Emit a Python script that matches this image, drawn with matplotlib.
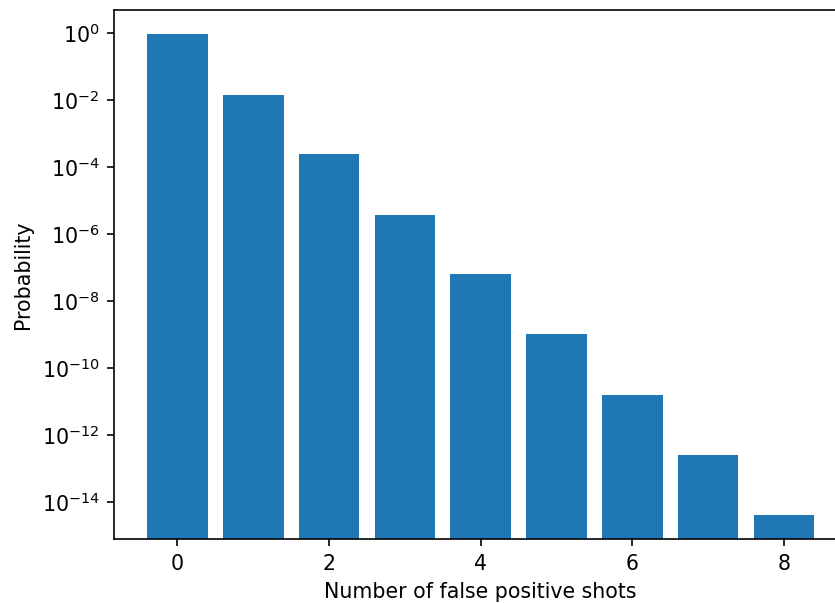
import matplotlib
matplotlib.use("Agg")
import matplotlib.pyplot as plt

shots = [0, 1, 2, 3, 4, 5, 6, 7, 8]
probability = [0.93, 1.45e-2, 2.45e-4, 3.8e-6, 6.3e-8, 1.0e-9, 1.55e-11, 2.6e-13, 4.0e-15]

DPI = 148
W, H = 836, 603
fig = plt.figure(figsize=(W / DPI, H / DPI), dpi=DPI)
left, right, top, bottom = 113.8, 847.5, 10, 539.3
ax = fig.add_axes([left / W, (H - bottom) / H, (right - left) / W, (bottom - top) / H])
ax.bar(shots, probability, color="#1f77b4")
ax.set_yscale("log")
ax.set_yticks([10.0**e for e in range(0, -15, -2)])
ax.minorticks_off()
ax.set_xlabel("Number of false positive shots")
ax.set_ylabel("Probability")
fig.savefig("out.png", dpi=DPI)
